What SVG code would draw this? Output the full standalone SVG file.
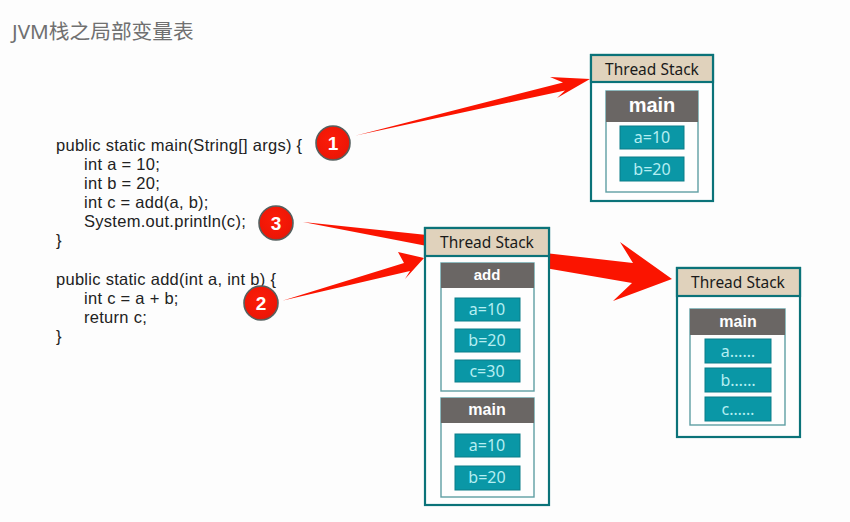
<svg xmlns="http://www.w3.org/2000/svg" width="850" height="522" viewBox="0 0 850 522">
<defs>
<radialGradient id="red" cx="0.45" cy="0.4" r="0.65"><stop offset="0" stop-color="#fb1c08"/><stop offset="0.8" stop-color="#ee1606"/><stop offset="1" stop-color="#b82a1c"/></radialGradient>
</defs>
<style>
text{font-family:"Noto Sans","Noto Sans CJK SC",sans-serif}
.title{font-size:20.700px;fill:#707070}
.code{font-family:"Liberation Sans",sans-serif;font-size:16.500px;letter-spacing:.28px;fill:#222}
.outer{fill:#fefefe;stroke:#0b7379;stroke-width:2.2}
.hdr{fill:#e0d2bc;stroke:#0b7379;stroke-width:2.2}
.hdrt{font-size:15.500px;fill:#1a1a1a;text-anchor:middle}
.frame{fill:#fefefe;stroke:#5f9ea3;stroke-width:1.4}
.fh{fill:#6a6664}
.fht{font-family:"Liberation Sans",sans-serif;font-weight:bold;fill:#fff;text-anchor:middle}
.cell{fill:#0a97a6;stroke:#0b7d88;stroke-width:1}
.cellt{font-size:16px;fill:#b5eef2;text-anchor:middle}
.arrow{fill:#fb1400}
.badge{fill:url(#red);stroke:#55605f;stroke-width:1.6}
.badget{font-family:"Liberation Sans",sans-serif;font-weight:bold;font-size:19px;fill:#fff;text-anchor:middle}
</style>
<rect width="850" height="522" fill="#fdfdfd"/>
<text class="title" x="12" y="39">JVM栈之局部变量表</text>
<g id="code">
<text class="code" x="56" y="150.500">public static main(String[] args) {</text>
<text class="code" x="84" y="169.500">int a = 10;</text>
<text class="code" x="84" y="188.500">int b = 20;</text>
<text class="code" x="84" y="207.500">int c = add(a, b);</text>
<text class="code" x="84" y="226.500">System.out.println(c);</text>
<text class="code" x="56" y="245.500">}</text>
<text class="code" x="56" y="284.500">public static add(int a, int b) {</text>
<text class="code" x="84" y="303.500">int c = a + b;</text>
<text class="code" x="84" y="322.500">return c;</text>
<text class="code" x="56" y="341.500">}</text>
</g>
<g id="connectors">
<polygon class="arrow" points="356,135.500 563,82.500 550,77 590,79 557,98 565,90.500"/>
<polygon class="arrow" points="303,222 427,235 427,246"/>
<polygon class="arrow" points="283,300.500 404,263 398,252 424,258 405,279 410,271"/>
<polygon class="arrow" points="545,253 633,263 620,242 672,279 613,301 632,283 545,268"/>
</g>
<g id="stack1">
<rect class="outer" x="591" y="55" width="122" height="146"/>
<rect class="hdr" x="591" y="55" width="122" height="27"/>
<text class="hdrt" x="652" y="75">Thread Stack</text>
<rect class="frame" x="606" y="91" width="92" height="101"/>
<rect class="fh" x="606" y="91" width="92" height="31"/>
<text class="fht" x="652" y="112" font-size="20">main</text>
<rect class="cell" x="620" y="126" width="64" height="23"/>
<text class="cellt" x="652" y="143">a=10</text>
<rect class="cell" x="620" y="157" width="64" height="24"/>
<text class="cellt" x="652" y="175">b=20</text>
</g>
<g id="stack2">
<rect class="outer" x="425" y="228" width="124" height="277"/>
<rect class="hdr" x="425" y="228" width="124" height="28"/>
<text class="hdrt" x="487" y="248">Thread Stack</text>
<rect class="frame" x="441" y="263" width="93" height="128"/>
<rect class="fh" x="441" y="263" width="93" height="25"/>
<text class="fht" x="487" y="280" font-size="15">add</text>
<rect class="cell" x="455" y="298" width="65" height="23"/>
<text class="cellt" x="487" y="315">a=10</text>
<rect class="cell" x="455" y="329" width="65" height="23"/>
<text class="cellt" x="487" y="346">b=20</text>
<rect class="cell" x="455" y="360" width="65" height="22"/>
<text class="cellt" x="487" y="377">c=30</text>
<rect class="frame" x="441" y="398" width="93" height="99"/>
<rect class="fh" x="441" y="398" width="93" height="25"/>
<text class="fht" x="487" y="415" font-size="16">main</text>
<rect class="cell" x="455" y="434" width="65" height="23"/>
<text class="cellt" x="487" y="451">a=10</text>
<rect class="cell" x="455" y="466" width="65" height="24"/>
<text class="cellt" x="487" y="483">b=20</text>
</g>
<g id="stack3">
<rect class="outer" x="677" y="268" width="123" height="169"/>
<rect class="hdr" x="677" y="268" width="123" height="28"/>
<text class="hdrt" x="738" y="288">Thread Stack</text>
<rect class="frame" x="690" y="309" width="95" height="116"/>
<rect class="fh" x="690" y="309" width="95" height="26"/>
<text class="fht" x="738" y="327" font-size="16">main</text>
<rect class="cell" x="705" y="339" width="66" height="24"/>
<text class="cellt" x="738" y="357">a……</text>
<rect class="cell" x="705" y="368" width="66" height="24"/>
<text class="cellt" x="738" y="386">b……</text>
<rect class="cell" x="705" y="397" width="66" height="24"/>
<text class="cellt" x="738" y="415">c……</text>
</g>
<g id="badge1"><circle class="badge" cx="333" cy="143" r="17"/><text class="badget" x="333" y="150">1</text></g>
<g id="badge2"><circle class="badge" cx="261" cy="303" r="17"/><text class="badget" x="261" y="310">2</text></g>
<g id="badge3"><circle class="badge" cx="276" cy="223" r="17"/><text class="badget" x="276" y="230">3</text></g>
</svg>
